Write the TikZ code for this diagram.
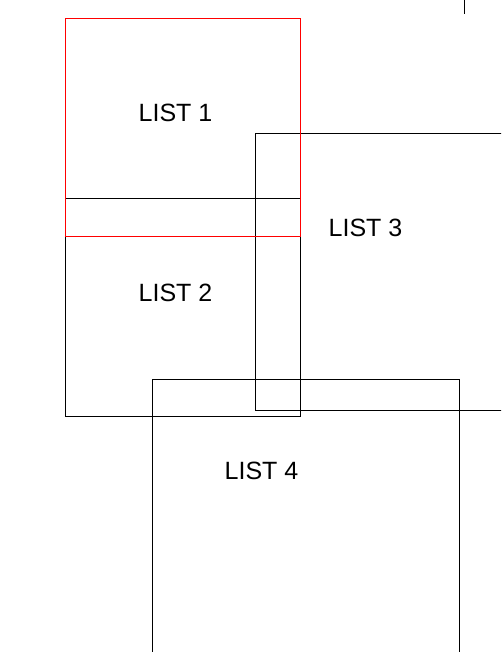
\documentclass[tikz,border=0pt]{standalone}
\usepackage{fontspec}
\setmainfont{Liberation Sans}
\usetikzlibrary{positioning}
\tikzstyle{list} = [rectangle, draw=black, line width=1pt, outer sep=0pt, inner sep=0pt, anchor=north west]
\tikzstyle{tag} = [font=\fontsize{25}{30}\selectfont, inner sep=0pt]

\begin{document}
\begin{tikzpicture}[x=1pt, y=-1pt]
        \useasboundingbox (0,0) rectangle (501,652);
        \clip (0,0) rectangle (501,652);
        
        \node (B2) [list, minimum width=235pt, minimum height=217pt] at (65.3,199) {};
        \node (B3) [list, minimum width=300pt, minimum height=276.5pt] at (255.7,134) {};
        \node (B1) [list, draw=red, minimum width=235pt, minimum height=217.3pt] at (65.3,19) {};
        \node (B4) [list, minimum width=307.3pt, minimum height=320pt] at (152,379) {};
        
        \node (L1) [tag] at (175.5,113) {LIST 1};
        \node (L2) [tag] at (175.5,293) {LIST 2};
        \node (L3) [tag] at (365.5,228) {LIST 3};
        \node (L4) [tag] at (261.5,471) {LIST 4};
        
        \coordinate (M1) at (464.7,0);
        \coordinate (M2) at (464.7,14);
        \draw[line width=1.5pt] (M1) -- (M2);
        
    \end{tikzpicture}
\end{document}
